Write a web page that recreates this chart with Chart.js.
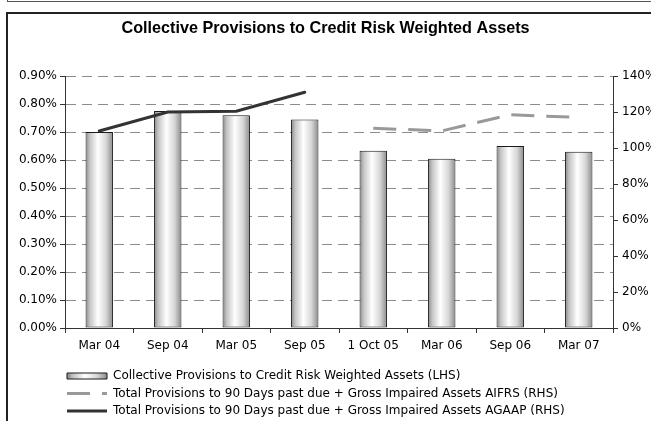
<!DOCTYPE html>
<html><head><meta charset="utf-8">
<script src="https://cdn.jsdelivr.net/npm/chart.js@4"></script>
<style>
html,body{margin:0;padding:0;background:#fff;}
#wrap{position:relative;width:651px;height:421px;overflow:hidden;background:#fff;}
#topbox{position:absolute;left:7px;top:-19px;width:700px;height:20px;border-left:1px solid #555;border-bottom:1px solid #555;}
#mainbox{position:absolute;left:6px;top:12px;width:700px;height:500px;border-left:2px solid #222;border-top:2px solid #222;}
canvas{position:absolute;left:0;top:0;}
</style></head>
<body><div id="wrap"><div id="topbox"></div><div id="mainbox"></div><canvas id="c" width="651" height="421"></canvas></div>
<script>
const chartTitle = 'Collective Provisions to Credit Risk Weighted Assets';
const categories = ['Mar 04','Sep 04','Mar 05','Sep 05','1 Oct 05','Mar 06','Sep 06','Mar 07'];
const collectiveName = 'Collective Provisions to Credit Risk Weighted Assets (LHS)';
const aifrsName = 'Total Provisions to 90 Days past due + Gross Impaired Assets AIFRS (RHS)';
const agaapName = 'Total Provisions to 90 Days past due + Gross Impaired Assets AGAAP (RHS)';
// values in percent
const collectivePct = [0.70, 0.775, 0.76, 0.745, 0.633, 0.605, 0.65, 0.63];
const aifrsPct = [null, null, null, null, 111, 109.5, 118.5, 117];
const agaapPct = [109.5, 120, 120.5, 131, null, null, null, null];
const leftAxis = {min: 0, max: 0.9, step: 0.1};
const rightAxis = {min: 0, max: 140, step: 20};

Chart.defaults.font.family = "'DejaVu Sans', Verdana, sans-serif";
Chart.defaults.font.size = 12;
Chart.defaults.color = '#000';

function barGradient(ctx, x0, x1) {
  const g = ctx.createLinearGradient(x0, 0, x1, 0);
  g.addColorStop(0, '#858585');
  g.addColorStop(0.15, '#c4c4c4');
  g.addColorStop(0.45, '#ffffff');
  g.addColorStop(0.75, '#d6d6d6');
  g.addColorStop(1, '#8a8a8a');
  return g;
}
const BAR_PCT = 0.4;

const legendTweak = {
  id: 'legendTweak',
  beforeDraw(chart) {
    const lg = chart.legend;
    if (!lg) return;
    const pad = chart.options.plugins.legend.labels.padding;
    lg.left = chart.chartArea.left - 3.5;
    const x0 = lg.left + pad;
    const w = chart.options.plugins.legend.labels.pointStyleWidth;
    const item = (lg.legendItems || []).find(it => it.datasetIndex === 0);
    if (item) item.fillStyle = barGradient(chart.ctx, x0, x0 + w);
  }
};

new Chart(document.getElementById('c'), {
  type: 'bar',
  data: {
    labels: categories,
    datasets: [
      {
        label: collectiveName,
        data: collectivePct,
        yAxisID: 'y',
        order: 3,
        backgroundColor: (c) => {
          const xs = c.chart.scales.x;
          if (!xs || c.dataIndex === undefined) return '#dddddd';
          const cx = xs.getPixelForValue(c.dataIndex);
          const w = xs.width / categories.length * BAR_PCT;
          return barGradient(c.chart.ctx, cx - w / 2, cx + w / 2);
        },
        borderColor: '#1a1a1a',
        borderWidth: 1,
        borderSkipped: false,
        barPercentage: BAR_PCT,
        categoryPercentage: 1,
        pointStyle: 'rect'
      },
      {
        type: 'line',
        label: aifrsName,
        data: aifrsPct,
        yAxisID: 'y1',
        order: 1,
        borderColor: '#999999',
        backgroundColor: '#999999',
        borderWidth: 3,
        borderDash: [23, 12],
        borderCapStyle: 'butt',
        pointRadius: 0,
        pointStyle: 'line',
        tension: 0,
        spanGaps: false
      },
      {
        type: 'line',
        label: agaapName,
        data: agaapPct,
        yAxisID: 'y1',
        order: 2,
        borderColor: '#333333',
        backgroundColor: '#333333',
        borderWidth: 3,
        borderCapStyle: 'round',
        pointRadius: 0,
        pointStyle: 'line',
        tension: 0,
        spanGaps: false
      }
    ]
  },
  options: {
    responsive: false,
    animation: false,
    events: [],
    layout: {padding: {left: 0, right: 0, top: 0, bottom: 0}},
    plugins: {
      title: {
        display: true,
        text: chartTitle,
        color: '#000',
        font: {family: "'Liberation Sans', Arial, sans-serif", size: 16.2, weight: 'bold'},
        padding: {top: 19, bottom: 37.6}
      },
      legend: {
        display: true,
        position: 'bottom',
        align: 'start',
        fullSize: false,
        maxHeight: 56.5,
        labels: {
          usePointStyle: true,
          pointStyleWidth: 40,
          boxHeight: 6,
          padding: 5.5,
          color: '#000',
          font: {size: 12},
          generateLabels: (chart) => {
            const items = Chart.defaults.plugins.legend.labels.generateLabels(chart);
            items.sort((a, b) => a.datasetIndex - b.datasetIndex);
            items.forEach(it => {
              const ds = chart.data.datasets[it.datasetIndex];
              if (ds.type === 'line') {
                it.lineDash = ds.borderDash || [];
                it.lineWidth = ds.borderWidth;
                it.strokeStyle = ds.borderColor;
                it.fillStyle = ds.borderColor;
                it.lineCap = 'butt';
                it.lineDashOffset = 0;
              } else {
                it.lineWidth = ds.borderWidth;
                it.strokeStyle = ds.borderColor;
              }
            });
            return items;
          }
        }
      },
      tooltip: {enabled: false}
    },
    scales: {
      x: {
        type: 'category',
        offset: true,
        grid: {display: true, offset: true, drawOnChartArea: false, drawTicks: true, tickLength: 5, tickColor: '#333'},
        border: {display: true, color: '#333', width: 1},
        ticks: {padding: 6, maxRotation: 0, autoSkip: false, color: '#000'},
        afterFit: (s) => { s.height = 36.5; }
      },
      y: {
        type: 'linear',
        position: 'left',
        min: leftAxis.min,
        max: leftAxis.max,
        grid: {color: '#8c8c8c', lineWidth: 1, drawTicks: true, tickLength: 5, tickColor: '#333', tickBorderDash: []},
        border: {display: true, color: '#333', width: 1, dash: [10, 6]},
        ticks: {stepSize: leftAxis.step, padding: 3, color: '#000', callback: (v) => Number(v).toFixed(2) + '%'},
        afterFit: (s) => { s.width = 65; }
      },
      y1: {
        type: 'linear',
        position: 'right',
        min: rightAxis.min,
        max: rightAxis.max,
        grid: {drawOnChartArea: false, drawTicks: true, tickLength: 5, tickColor: '#333'},
        border: {display: true, color: '#333', width: 1},
        ticks: {stepSize: rightAxis.step, padding: 4, color: '#000', callback: (v) => Math.round(v) + '%'},
        afterFit: (s) => { s.width = 38; }
      }
    }
  },
  plugins: [legendTweak]
});
</script>
</body></html>
